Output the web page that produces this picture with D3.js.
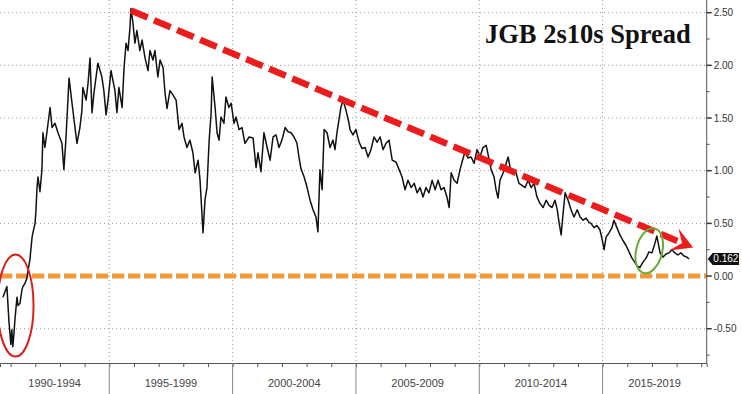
<!DOCTYPE html>
<html>
<head>
<meta charset="utf-8">
<script src="https://cdnjs.cloudflare.com/ajax/libs/d3/7.8.5/d3.min.js"></script>
<style>
body{margin:0;background:#fff;}
svg{display:block;}
.tickTxt{font-family:"Liberation Sans",Arial,sans-serif;font-size:10px;fill:#333;}
.periodTxt{font-family:"Liberation Sans",Arial,sans-serif;font-size:11px;fill:#444;}
</style>
</head>
<body>
<div id="chart"></div>
<script>

// [year, spread %]
const spreadSeries = [
[1990.69,-0.20],[1990.85,-0.10],[1990.93,-0.42],[1991.01,-0.65],[1991.05,-0.51],[1991.09,-0.67],[1991.13,-0.56],
[1991.18,-0.40],[1991.26,-0.20],[1991.30,-0.28],[1991.38,-0.26],[1991.46,-0.13],[1991.50,-0.10],[1991.58,-0.07],
[1991.66,-0.02],[1991.74,0.10],[1991.78,0.15],[1991.87,0.37],[1991.95,0.46],[1991.99,0.50],[1992.03,0.63],
[1992.07,0.84],[1992.11,0.94],[1992.19,0.80],[1992.27,1.01],[1992.31,1.36],[1992.39,1.22],[1992.47,1.36],
[1992.60,1.60],[1992.68,1.41],[1992.80,1.45],[1992.92,1.36],[1993.08,1.26],[1993.16,1.01],[1993.24,1.29],
[1993.37,1.88],[1993.49,1.64],[1993.61,1.41],[1993.69,1.26],[1993.81,1.41],[1993.89,1.57],[1993.93,1.79],
[1994.06,1.67],[1994.14,1.83],[1994.22,2.07],[1994.30,1.55],[1994.38,1.74],[1994.54,2.02],[1994.70,1.89],
[1994.78,1.76],[1994.87,1.53],[1994.95,1.67],[1995.07,1.95],[1995.23,1.76],[1995.31,1.55],[1995.39,1.79],
[1995.52,1.60],[1995.60,1.98],[1995.68,2.21],[1995.76,2.14],[1995.84,2.36],[1995.88,2.54],[1995.96,2.40],
[1996.04,2.21],[1996.12,2.33],[1996.24,2.14],[1996.33,2.24],[1996.45,2.07],[1996.57,1.95],[1996.65,2.14],
[1996.77,2.05],[1996.85,2.14],[1996.97,1.89],[1997.06,2.05],[1997.18,1.98],[1997.26,1.74],[1997.34,1.59],
[1997.46,1.76],[1997.58,1.72],[1997.71,1.67],[1997.83,1.39],[1997.95,1.45],[1998.03,1.32],[1998.15,1.22],
[1998.27,1.29],[1998.39,1.17],[1998.48,0.98],[1998.60,1.10],[1998.68,0.91],[1998.80,0.41],[1998.88,0.72],
[1998.96,0.84],[1999.05,1.29],[1999.13,1.55],[1999.17,1.89],[1999.29,1.60],[1999.37,1.36],[1999.45,1.29],
[1999.53,1.51],[1999.65,1.45],[1999.73,1.70],[1999.85,1.60],[1999.94,1.64],[2000.06,1.45],[2000.14,1.51],
[2000.26,1.39],[2000.38,1.41],[2000.50,1.26],[2000.67,1.32],[2000.83,1.31],[2000.95,1.03],[2001.03,1.17],
[2001.15,0.99],[2001.27,1.36],[2001.40,1.22],[2001.52,1.10],[2001.64,1.32],[2001.76,1.34],[2001.88,1.22],
[2002.00,1.29],[2002.13,1.41],[2002.25,1.37],[2002.37,1.36],[2002.49,1.32],[2002.61,1.26],[2002.69,1.13],
[2002.77,1.02],[2002.90,0.94],[2003.02,0.84],[2003.14,0.72],[2003.26,0.63],[2003.38,0.56],[2003.46,0.42],
[2003.54,1.01],[2003.63,0.82],[2003.71,1.39],[2003.83,1.36],[2003.95,1.22],[2004.07,1.29],[2004.15,1.20],
[2004.23,1.36],[2004.31,1.48],[2004.39,1.60],[2004.48,1.67],[2004.60,1.57],[2004.72,1.45],[2004.76,1.39],
[2004.88,1.34],[2005.00,1.39],[2005.13,1.27],[2005.25,1.21],[2005.37,1.22],[2005.49,1.13],[2005.61,1.20],
[2005.73,1.32],[2005.86,1.27],[2005.98,1.32],[2006.10,1.20],[2006.22,1.26],[2006.34,1.29],[2006.47,1.10],
[2006.63,1.08],[2006.75,1.01],[2006.87,0.94],[2006.99,0.82],[2007.11,0.91],[2007.24,0.84],[2007.36,0.88],
[2007.48,0.79],[2007.60,0.84],[2007.72,0.75],[2007.84,0.84],[2007.96,0.79],[2008.09,0.91],[2008.21,0.82],
[2008.33,0.91],[2008.45,0.82],[2008.57,0.84],[2008.69,0.75],[2008.78,0.65],[2008.86,0.98],[2008.98,0.91],
[2009.10,0.88],[2009.22,1.01],[2009.30,1.08],[2009.42,1.18],[2009.54,1.12],[2009.67,1.13],[2009.79,1.07],
[2009.91,1.20],[2010.03,1.13],[2010.15,1.22],[2010.28,1.24],[2010.36,1.15],[2010.48,1.01],[2010.60,0.94],
[2010.68,0.82],[2010.76,0.74],[2010.84,0.91],[2010.97,0.98],[2011.09,1.07],[2011.17,1.13],[2011.25,1.03],
[2011.37,0.98],[2011.49,0.98],[2011.61,0.88],[2011.73,0.86],[2011.86,0.84],[2011.98,0.91],[2012.10,0.84],
[2012.22,0.88],[2012.34,0.75],[2012.46,0.69],[2012.59,0.65],[2012.71,0.72],[2012.83,0.67],[2012.95,0.65],
[2013.07,0.72],[2013.16,0.63],[2013.24,0.50],[2013.32,0.39],[2013.40,0.60],[2013.48,0.79],[2013.60,0.72],
[2013.72,0.63],[2013.84,0.56],[2013.97,0.63],[2014.09,0.56],[2014.21,0.53],[2014.33,0.55],[2014.45,0.51],
[2014.53,0.50],[2014.65,0.46],[2014.77,0.48],[2014.89,0.44],[2014.97,0.36],[2015.06,0.25],[2015.14,0.37],
[2015.26,0.41],[2015.38,0.46],[2015.46,0.53],[2015.58,0.46],[2015.70,0.39],[2015.82,0.34],[2015.95,0.29],
[2016.07,0.23],[2016.19,0.17],[2016.31,0.13],[2016.39,0.10],[2016.51,0.08],[2016.63,0.13],[2016.76,0.17],
[2016.88,0.23],[2017.00,0.22],[2017.12,0.31],[2017.20,0.38],[2017.33,0.22],[2017.45,0.18],[2017.57,0.21],
[2017.69,0.22],[2017.81,0.25],[2017.93,0.22],[2018.05,0.20],[2018.17,0.22],[2018.30,0.19],[2018.42,0.18],
[2018.50,0.162]
]

const yMajor = [-0.5, 0, 0.5, 1, 1.5, 2, 2.5]
const yMinor = [-0.75, -0.25, 0.25, 0.75, 1.25, 1.75, 2.25]
const yearTicks = d3.range(1991, 2020)
const periodStarts = [1990, 1995, 2000, 2005, 2010, 2015]
const periodLabels = ["1990-1994", "1995-1999", "2000-2004", "2005-2009", "2010-2014", "2015-2019"]
const trendLine = [[1995.88, 2.52], [2018.67, 0.27]]
const redCircleAt = [1991.2, -0.28]
const greenCircleAt = [2016.89, 0.24]
const lastValue = 0.162
const title = "JGB 2s10s Spread"

const config = {
    width: 742,
    height: 394,
    right: 706.7,
    bottom: 363,
}

const x = d3.scaleLinear().domain([1990.57, 2019.22]).range([0, config.right])
const y = d3.scaleLinear().domain([-0.825, 2.62]).range([config.bottom, 0])

const svg = d3.select('#chart').append('svg').attr("width", config.width).attr("height", config.height)

//grid
svg.append('g').selectAll('line')
    .data(yMajor)
    .enter().append('line')
    .attr("x1", 0).attr("x2", config.right)
    .attr("y1", d => y(d)).attr("y2", d => y(d))
    .attr("stroke", "#9a9a9a").attr("stroke-width", 1).attr("stroke-dasharray", "1,3")

svg.append('g').selectAll('line')
    .data(periodStarts.filter(d => x(d) > 0))
    .enter().append('line')
    .attr("x1", d => x(d)).attr("x2", d => x(d))
    .attr("y1", 0).attr("y2", config.bottom)
    .attr("stroke", "#9a9a9a").attr("stroke-width", 1).attr("stroke-dasharray", "1,3")

//zero line
svg.append('line')
    .attr("x1", 0).attr("x2", config.right)
    .attr("y1", y(0)).attr("y2", y(0))
    .attr("stroke", "#f29a3a").attr("stroke-width", 5).attr("stroke-dasharray", "12,4")

//the spread
const lineGenerator = d3.line().x(d => x(d[0])).y(d => y(d[1]))

svg.append('path')
    .datum(spreadSeries)
    .attr("d", lineGenerator)
    .attr("fill", "none")
    .attr("stroke", "#111")
    .attr("stroke-width", 1.5)
    .attr("stroke-linejoin", "round")

//trend arrow
const p0 = [x(trendLine[0][0]), y(trendLine[0][1])]
const p1 = [x(trendLine[1][0]), y(trendLine[1][1])]
const ang = Math.atan2(p1[1] - p0[1], p1[0] - p0[0])
const ux = Math.cos(ang), uy = Math.sin(ang)

svg.append('line')
    .attr("x1", p0[0]).attr("y1", p0[1])
    .attr("x2", p1[0] - ux * 14).attr("y2", p1[1] - uy * 14)
    .attr("stroke", "#ec1c1c").attr("stroke-width", 6.5).attr("stroke-dasharray", "18,7")

const headBack = 21, headHalf = 12, notch = 12
const head = [
    p1,
    [p1[0] - ux * headBack - uy * headHalf, p1[1] - uy * headBack + ux * headHalf],
    [p1[0] - ux * notch, p1[1] - uy * notch],
    [p1[0] - ux * headBack + uy * headHalf, p1[1] - uy * headBack - ux * headHalf],
]
svg.append('polygon')
    .attr("points", head.map(d => d.join(",")).join(" "))
    .attr("fill", "#ec1c1c")

//circles
svg.append('ellipse')
    .attr("cx", x(redCircleAt[0])).attr("cy", y(redCircleAt[1]))
    .attr("rx", 18).attr("ry", 51)
    .attr("fill", "none").attr("stroke", "#d9201e").attr("stroke-width", 2)

svg.append('ellipse')
    .attr("transform", `translate(${x(greenCircleAt[0])},${y(greenCircleAt[1])}) rotate(14)`)
    .attr("rx", 13).attr("ry", 23)
    .attr("fill", "none").attr("stroke", "#6aab3a").attr("stroke-width", 2)

//y axis
const yAxis = svg.append('g').attr("transform", `translate(${config.right},0)`)
yAxis.append('line').attr("y1", 0).attr("y2", config.bottom).attr("stroke", "#555")
yAxis.selectAll('.maj')
    .data(yMajor)
    .enter().append('line')
    .attr("x1", 0).attr("x2", 5)
    .attr("y1", d => y(d)).attr("y2", d => y(d))
    .attr("stroke", "#333").attr("stroke-width", 1.5)
yAxis.selectAll('.min')
    .data(yMinor)
    .enter().append('line')
    .attr("x1", 0).attr("x2", 3)
    .attr("y1", d => y(d)).attr("y2", d => y(d))
    .attr("stroke", "#555")
yAxis.selectAll('text')
    .data(yMajor)
    .enter().append('text')
    .attr("class", "tickTxt")
    .attr("x", 7)
    .attr("y", d => y(d))
    .attr("dy", "0.35em")
    .text(d => d.toFixed(2))

//last value tag
const ly = y(lastValue)
svg.append('path')
    .attr("d", `M${config.right + 1},${ly} L${config.right + 6},${ly - 6} L${config.width - 3},${ly - 6} L${config.width - 3},${ly + 6} L${config.right + 6},${ly + 6} Z`)
    .attr("fill", "#111")
svg.append('text')
    .attr("class", "tickTxt")
    .attr("x", (config.right + 6 + config.width - 3) / 2)
    .attr("y", ly).attr("dy", "0.35em")
    .attr("text-anchor", "middle")
    .style("fill", "#fff")
    .text(lastValue.toFixed(3))

//x axis
const xAxis = d3.axisBottom(x).tickValues(yearTicks).tickSize(4).tickFormat("")
const gx = svg.append('g').attr("transform", `translate(0,${config.bottom})`).call(xAxis)
gx.select(".domain").attr("stroke", "#555")
gx.selectAll(".tick line").attr("stroke", "#555")

svg.append('g').selectAll('line')
    .data(periodStarts.filter(d => x(d) > 0))
    .enter().append('line')
    .attr("x1", d => x(d)).attr("x2", d => x(d))
    .attr("y1", config.bottom).attr("y2", config.height)
    .attr("stroke", "#888")

svg.append('g').selectAll('text')
    .data(periodStarts)
    .enter().append('text')
    .attr("class", "periodTxt")
    .attr("text-anchor", "middle")
    .attr("x", d => (Math.max(x(d), 0) + Math.min(x(d + 5), config.right)) / 2)
    .attr("y", 387)
    .text((d, i) => periodLabels[i])

//title
svg.append('text')
    .attr("x", 485).attr("y", 43)
    .attr("font-family", "'Liberation Serif','Times New Roman',serif")
    .attr("font-size", 26.5)
    .attr("font-weight", "bold")
    .attr("fill", "#111")
    .text(title)

</script>
</body>
</html>
